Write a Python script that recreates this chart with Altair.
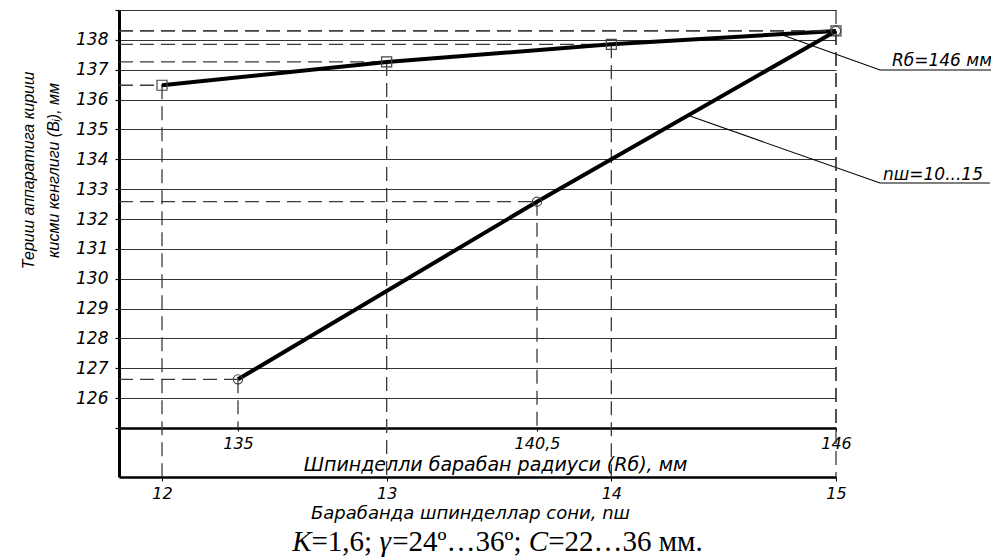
import altair as alt
import pandas as pd

# ---------------- data ----------------
n_ticks = [12, 13, 14, 15]                      # spindle count n_ш
b_vs_n = [136.48, 137.26, 137.85, 138.30]       # B_i vs n_ш (R_б = 146 mm)
r_ticks = [135, 140.5, 146]                     # drum radius R_б, mm
b_vs_r = [126.63, 132.58, 138.30]               # B_i vs R_б (n_ш = 10...15)
y_ticks = list(range(125, 140))

# axis domains (chosen so the two x scales line up as in the drawing)
N_DOM = [11.8086, 15.0]
R_DOM = [132.811, 146.0]
Y_DOM = [123.359, 139.0]

# leader lines for the two notes (in n_ш / B units)
lead_rb_x = [14.737, 15.196, 15.721]
lead_rb_y = [138.23, 136.99, 136.99]
lead_nw_x = [14.337, 15.196, 15.685]
lead_nw_y = [135.48, 133.206, 133.206]
note_texts = ["Rб=146 мм", "nш=10...15"]
note_x = [15.249, 15.209]
note_y = [137.124, 133.306]

caption_parts = ["K", "=1,6; ", "γ", "=24º…36º; ", "C", "=22…36 мм."]
caption_italic = [True, False, True, False, True, False]
caption_em = [0.667, 2.342, 0.44, 4.712, 0.667, 5.334]   # advance widths (em)

FONT = "DejaVu Sans"
NARROW = "Liberation Sans Narrow, Liberation Sans, DejaVu Sans"
SERIF = "Liberation Serif"
DASH = "#3a3a3a"
W, H = 717, 467

# ---------------- scales & axes ----------------
yscale = alt.Scale(domain=Y_DOM, nice=False, zero=False)
nscale = alt.Scale(domain=N_DOM, nice=False, zero=False)
rscale = alt.Scale(domain=R_DOM, nice=False, zero=False)

yaxis = alt.Axis(
    values=y_ticks,
    labelExpr="datum.value == 125 || datum.value == 139 ? '' : datum.label",
    grid=True, gridColor="#333333", gridWidth=1.2, gridOpacity=1,
    domainColor="black", domainWidth=3,
    tickColor="black", tickSize=4, tickWidth=1.2,
    labelPadding=7, labelFont=FONT, labelFontSize=17, labelFontStyle="italic",
    labelColor="black", labelBaseline="middle",
    title=["Териш аппаратига кириш", "кисми кенглиги (Bᵢ), мм"],
    titleFont=NARROW, titleFontSize=16, titleFontStyle="italic", titleFontWeight="normal",
    titleColor="black", titleAngle=270, titleX=-99, titleY=160,
    titleAlign="center", titleBaseline="top", titleLineHeight=25,
)

naxis = alt.Axis(
    orient="bottom", values=n_ticks, grid=False,
    domainColor="black", domainWidth=2.5,
    ticks=True, tickSize=4, tickColor="black",
    labelPadding=4, labelFont=FONT, labelFontSize=16, labelFontStyle="italic",
    labelColor="black", labelFlush=False, labelOverlap=False,
    title="Барабанда шпинделлар сони, nш",
    titleFont=FONT, titleFontSize=18, titleFontStyle="italic", titleFontWeight="normal",
    titleColor="black", titleX=351, titleY=41, titleAlign="center",
    titleBaseline="alphabetic", titleAngle=0,
)

raxis = alt.Axis(
    orient="bottom", offset=-49, values=r_ticks, grid=False,
    labelExpr="replace(format(datum.value, '~g'), '.', ',')",
    domainColor="black", domainWidth=2.5,
    ticks=True, tickSize=3, tickColor="black",
    labelPadding=4, labelFont=FONT, labelFontSize=16, labelFontStyle="italic",
    labelColor="black", labelFlush=False, labelOverlap=False,
    title="Шпинделли барабан радиуси (Rб), мм",
    titleFont=FONT, titleFontSize=19, titleFontStyle="italic", titleFontWeight="normal",
    titleColor="black", titleX=376, titleY=42, titleAlign="center",
    titleBaseline="alphabetic", titleAngle=0,
)


def Y(f):
    return alt.Y(f, type="quantitative", scale=yscale, axis=yaxis)


def XN(f):
    return alt.X(f, type="quantitative", scale=nscale, axis=naxis)


def XR(f):
    return alt.X(f, type="quantitative", scale=rscale, axis=raxis)


# ---------------- tables ----------------
df_n = pd.DataFrame({
    "n": n_ticks, "b": b_vs_n, "n0": N_DOM[0],
    "ytop": b_vs_n[:-1] + [Y_DOM[1]], "ybot": Y_DOM[0],
})
df_r = pd.DataFrame({"r": r_ticks, "b": b_vs_r, "r0": R_DOM[0], "ybot": 125})

df_lead = pd.DataFrame({
    "ax": lead_rb_x + lead_nw_x,
    "ay": lead_rb_y + lead_nw_y,
    "id": ["rb"] * 3 + ["nw"] * 3,
    "k": [0, 1, 2] * 2,
})
df_note = pd.DataFrame({"tx": note_x, "ty": note_y, "label": note_texts})

dash = dict(strokeDash=[14, 7], color=DASH, strokeWidth=1.3)

# ---------------- n_ш group ----------------
hdash_n = alt.Chart(df_n).mark_rule(**dash).encode(x=XN("n0"), x2="n", y=Y("b"))
vdash_n = alt.Chart(df_n).mark_rule(**dash).encode(x=XN("n"), y=Y("ytop"), y2="ybot")
line_n = alt.Chart(df_n).mark_line(color="black", strokeWidth=4).encode(x=XN("n"), y=Y("b"))
pts_n = alt.Chart(df_n).mark_point(
    shape="square", size=100, filled=False, color="#444444", strokeWidth=1.2, opacity=1
).encode(x=XN("n"), y=Y("b"))
lead = alt.Chart(df_lead).mark_line(color="black", strokeWidth=1.1).encode(
    x=XN("ax"), y=Y("ay"), detail="id:N", order="k:O"
)
notes = alt.Chart(df_note).mark_text(
    align="left", baseline="alphabetic", font=FONT, fontSize=17, fontStyle="italic", color="black"
).encode(x=XN("tx"), y=Y("ty"), text="label:N")

# caption (mixed italic) placed below the axes
CAP_SIZE = 29
cap_total = sum(caption_em) * CAP_SIZE
cap_x0 = 497.5 - 119 - cap_total / 2
caption_layers = []
pos = cap_x0
for txt, it, em in zip(caption_parts, caption_italic, caption_em):
    caption_layers.append(
        alt.Chart(pd.DataFrame({"t": [txt]})).mark_text(
            align="left", baseline="alphabetic", font=SERIF, fontSize=CAP_SIZE,
            fontStyle="italic" if it else "normal", color="black",
        ).encode(text="t:N", x=alt.value(pos), y=alt.value(541))
    )
    pos += em * CAP_SIZE

group_n = alt.layer(hdash_n, vdash_n, lead, line_n, pts_n, notes, *caption_layers)

# ---------------- R_б group ----------------
hdash_r = alt.Chart(df_r).mark_rule(**dash).encode(x=XR("r0"), x2="r", y=Y("b"))
vdash_r = alt.Chart(df_r).mark_rule(**dash).encode(x=XR("r"), y=Y("b"), y2="ybot")
line_r = alt.Chart(df_r).mark_line(color="black", strokeWidth=4).encode(x=XR("r"), y=Y("b"))
pts_r = alt.Chart(df_r).mark_point(
    shape="circle", size=85, filled=False, color="#444444", strokeWidth=1.2, opacity=1
).encode(x=XR("r"), y=Y("b"))

group_r = alt.layer(hdash_r, vdash_r, line_r, pts_r)

chart = (
    alt.layer(group_n, group_r)
    .resolve_scale(x="independent")
    .properties(
        width=W, height=H,
        padding={"left": 111, "top": 2, "right": 155, "bottom": 81},
        autosize=alt.AutoSizeParams(type="none"),
        background="white",
    )
    .configure_view(stroke=None)
)

chart.save("out.html", embed_options={"renderer": "svg", "actions": False})
